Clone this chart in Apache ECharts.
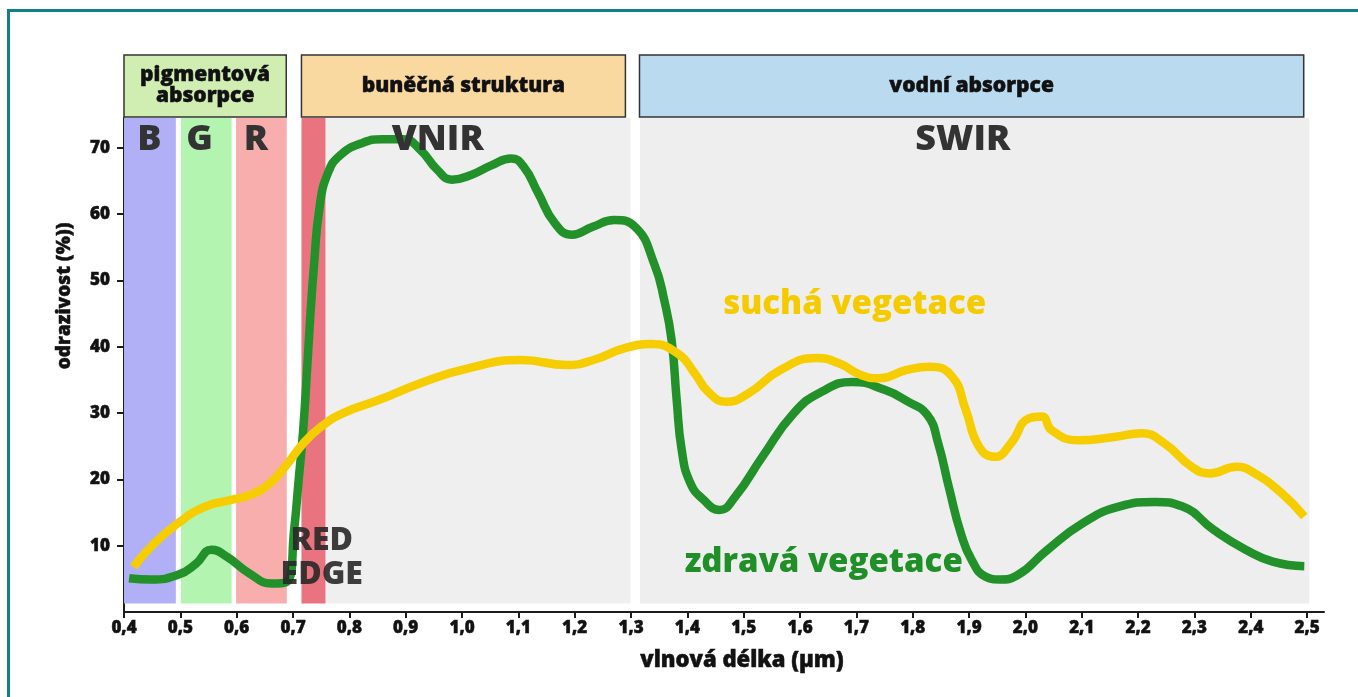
<!DOCTYPE html>
<html>
<head>
<meta charset="utf-8">
<title>odrazivost vegetace</title>
<style>
  html, body { margin: 0; padding: 0; background: #fff; overflow: hidden; }
  #frame { position: absolute; left: 7px; top: 9px; width: 1400px; height: 720px; border-left: 3px solid #127f88; border-top: 3px solid #127f88; }
  #main { position: absolute; left: 0; top: 0; width: 1358px; height: 697px; }
</style>
<script src="https://cdn.jsdelivr.net/npm/echarts@6.0.0/dist/echarts.min.js"></script>
</head>
<body>
<div id="frame"></div>
<div id="main"></div>
<script>
// osy
var xTicks = [0.4, 0.5, 0.6, 0.7, 0.8, 0.9, 1.0, 1.1, 1.2, 1.3, 1.4, 1.5, 1.6, 1.7, 1.8, 1.9, 2.0, 2.1, 2.2, 2.3, 2.4, 2.5];
var yTicks = [10, 20, 30, 40, 50, 60, 70];

// zdravá vegetace (vlnová délka, odrazivost)
var healthyX = [0.409, 0.448, 0.496, 0.528, 0.555, 0.583, 0.623, 0.662, 0.690, 0.702, 0.710, 0.718, 0.726, 0.731, 0.737, 0.747, 0.762, 0.784, 0.822, 0.859, 0.896, 0.926, 0.956, 0.982, 1.016, 1.053, 1.087, 1.109, 1.135, 1.165, 1.195, 1.232, 1.270, 1.307, 1.342, 1.359, 1.372, 1.381, 1.390, 1.405, 1.429, 1.457, 1.485, 1.533, 1.589, 1.638, 1.693, 1.750, 1.790, 1.826, 1.845, 1.865, 1.885, 1.905, 1.930, 1.955, 1.985, 2.038, 2.102, 2.166, 2.230, 2.279, 2.334, 2.391, 2.439, 2.495];
var healthyY = [5.1, 4.9, 5.6, 7.3, 9.4, 8.3, 5.8, 4.3, 4.6, 12.4, 19.9, 27.4, 38, 45, 52, 61, 66.2, 68.9, 70.7, 71.3, 71.3, 69.7, 66.7, 65.2, 65.9, 67.4, 68.4, 67.2, 63.2, 58.6, 56.9, 58.1, 59.1, 58.1, 52.3, 47, 41, 32, 24.4, 19.5, 16.9, 15.4, 17.4, 23.4, 30, 33.2, 34.7, 33.5, 31.8, 29.7, 25.5, 18.5, 12, 7.8, 5.3, 4.9, 5.5, 9.3, 13.4, 15.9, 16.6, 15.9, 12.4, 9.4, 7.6, 6.9];

// suchá vegetace
var dryX = [0.417, 0.448, 0.496, 0.544, 0.591, 0.631, 0.662, 0.686, 0.718, 0.750, 0.789, 0.853, 0.932, 1.011, 1.106, 1.186, 1.233, 1.289, 1.336, 1.384, 1.413, 1.437, 1.469, 1.509, 1.565, 1.629, 1.669, 1.709, 1.741, 1.789, 1.830, 1.870, 1.894, 1.918, 1.946, 1.974, 2.006, 2.030, 2.046, 2.094, 2.158, 2.206, 2.247, 2.295, 2.327, 2.375, 2.407, 2.455, 2.495];
var dryY = [6.8, 9.85, 13.4, 15.9, 16.9, 17.9, 19.65, 21.9, 25.4, 27.95, 30.0, 32.0, 34.7, 36.75, 38.0, 37.25, 38.0, 39.8, 40.4, 38.9, 36.0, 33.2, 31.7, 33.0, 36.5, 38.3, 37.5, 35.7, 35.25, 36.5, 37.0, 35.5, 30.5, 24.9, 23.4, 25.4, 29.2, 29.5, 27.45, 25.9, 26.4, 26.95, 25.4, 21.9, 20.9, 21.9, 20.9, 17.9, 14.4];

// spektrální pásy
var bandFrom = [0.4, 0.501, 0.599, 0.715, 0.758, 1.316];
var bandTo = [0.492, 0.591, 0.689, 0.758, 1.299, 2.504];

// hlavičky nad grafem
var headerNames = ['pigmentová\nabsorpce', 'buněčná struktura', 'vodní absorpce'];
var headerFrom = [0.4, 0.715, 1.315];
var headerTo = [0.688, 1.29, 2.494];

// popisky v grafu
var noteNames = ['B', 'G', 'R', 'VNIR', 'SWIR', 'RED\nEDGE', 'suchá vegetace', 'zdravá vegetace'];
var noteX = [0.445, 0.534, 0.634, 0.957, 1.889, 0.751, 1.697, 1.642];
var noteY = [71.2, 71.2, 71.2, 71.2, 71.2, 8.1, 46.3, 7.5];

var bandColors = ['#b1b0f6', '#b3f4b1', '#f9aeae', '#e9737e', '#efefef', '#eeeeee'];
var headerColors = ['#d1eeb2', '#fad9a1', '#badbef'];
var noteStyles = [
    { fontSize: 36, color: '#333' },
    { fontSize: 36, color: '#333' },
    { fontSize: 36, color: '#333' },
    { fontSize: 36, color: '#333' },
    { fontSize: 36, color: '#333' },
    { fontSize: 32, lineHeight: 34, color: 'rgba(40,40,40,0.9)' },
    { fontSize: 33, color: '#f5cb00' },
    { fontSize: 33, color: '#1f8f28' }
];

var fontFamily = 'Open Sans';
var heavy = 800;
var ink = '#121212';
var yMax = 74.5;
var bandBottom = 1.3;

function pairs(xs, ys) {
    return xs.map(function (x, i) {
        return [x, ys[i]];
    });
}

var chart = echarts.init(document.getElementById('main'));

var option = {
    animation: false,
    grid: [
        { left: 124, top: 118, width: 1200, height: 494 },
        { left: 124, top: 55, width: 1200, height: 62 }
    ],
    xAxis: [{
        gridIndex: 0,
        type: 'value',
        min: 0.4,
        max: 2.53,
        splitLine: { show: false },
        axisLine: { show: true, lineStyle: { color: '#1c1c1c', width: 2 } },
        axisTick: { show: true, customValues: xTicks, length: 6, lineStyle: { color: '#1c1c1c', width: 2 } },
        axisLabel: {
            customValues: xTicks,
            margin: 8,
            fontFamily: fontFamily,
            fontWeight: heavy,
            fontSize: 17,
            color: ink,
            textBorderColor: ink,
            textBorderWidth: 0.5,
            formatter: function (v) {
                return v.toFixed(1).replace('.', ',');
            }
        },
        name: 'vlnová délka (µm)',
        nameLocation: 'middle',
        nameGap: 38,
        nameTextStyle: {
            fontFamily: fontFamily,
            fontWeight: heavy,
            fontSize: 22,
            color: ink,
            textBorderColor: ink,
            textBorderWidth: 0.5,
            padding: [0, 0, 0, 36]
        }
    }, {
        gridIndex: 1,
        type: 'value',
        min: 0.4,
        max: 2.53,
        show: false
    }],
    yAxis: [{
        gridIndex: 0,
        type: 'value',
        min: 0,
        max: yMax,
        splitLine: { show: false },
        axisLine: { show: true, lineStyle: { color: '#1c1c1c', width: 2 } },
        axisTick: { show: true, customValues: yTicks, length: 7, lineStyle: { color: '#1c1c1c', width: 2 } },
        axisLabel: {
            customValues: yTicks,
            margin: 14,
            fontFamily: fontFamily,
            fontWeight: heavy,
            fontSize: 17,
            color: ink,
            textBorderColor: ink,
            textBorderWidth: 0.5
        },
        name: 'odrazivost (%))',
        nameLocation: 'middle',
        nameGap: 50,
        nameTextStyle: {
            fontFamily: fontFamily,
            fontWeight: heavy,
            fontSize: 19,
            color: ink,
            textBorderColor: ink,
            textBorderWidth: 0.5,
            padding: [0, 0, 0, 138]
        }
    }, {
        gridIndex: 1,
        type: 'value',
        min: 0,
        max: 1,
        show: false
    }],
    series: [{
        name: 'pásma',
        type: 'line',
        xAxisIndex: 0,
        yAxisIndex: 0,
        data: [],
        silent: true,
        markArea: {
            silent: true,
            label: { show: false },
            data: bandFrom.map(function (f, i) {
                return [
                    { xAxis: f, yAxis: bandBottom, itemStyle: { color: bandColors[i] } },
                    { xAxis: bandTo[i], yAxis: yMax }
                ];
            })
        }
    }, {
        name: 'hlavičky',
        type: 'line',
        xAxisIndex: 1,
        yAxisIndex: 1,
        data: [],
        silent: true,
        markArea: {
            silent: true,
            label: {
                show: true,
                position: 'inside',
                formatter: '{b}',
                fontFamily: fontFamily,
                fontWeight: heavy,
                fontSize: 21,
                lineHeight: 21,
                color: '#111',
                textBorderColor: '#111',
                textBorderWidth: 0.5
            },
            data: headerNames.map(function (n, i) {
                return [
                    {
                        name: n,
                        xAxis: headerFrom[i],
                        yAxis: 0,
                        itemStyle: { color: headerColors[i], borderColor: '#333', borderWidth: 1.5 }
                    },
                    { xAxis: headerTo[i], yAxis: 1 }
                ];
            })
        }
    }, {
        name: 'zdravá vegetace',
        type: 'line',
        data: pairs(healthyX, healthyY),
        smooth: 0.5,
        showSymbol: false,
        silent: true,
        z: 3,
        lineStyle: { color: '#23912a', width: 8.5 }
    }, {
        name: 'suchá vegetace',
        type: 'line',
        data: pairs(dryX, dryY),
        smooth: 0.5,
        showSymbol: false,
        silent: true,
        z: 4,
        lineStyle: { color: '#f6cd00', width: 8.5 }
    }, {
        name: 'popisky',
        type: 'scatter',
        symbolSize: 1,
        silent: true,
        z: 10,
        itemStyle: { color: 'rgba(0,0,0,0)', opacity: 1 },
        label: {
            show: true,
            position: 'inside',
            formatter: '{b}',
            fontFamily: fontFamily,
            fontWeight: heavy,
            textBorderWidth: 0
        },
        data: noteNames.map(function (n, i) {
            return {
                name: n,
                value: [noteX[i], noteY[i]],
                label: noteStyles[i]
            };
        })
    }]
};

chart.setOption(option);
</script>
</body>
</html>
